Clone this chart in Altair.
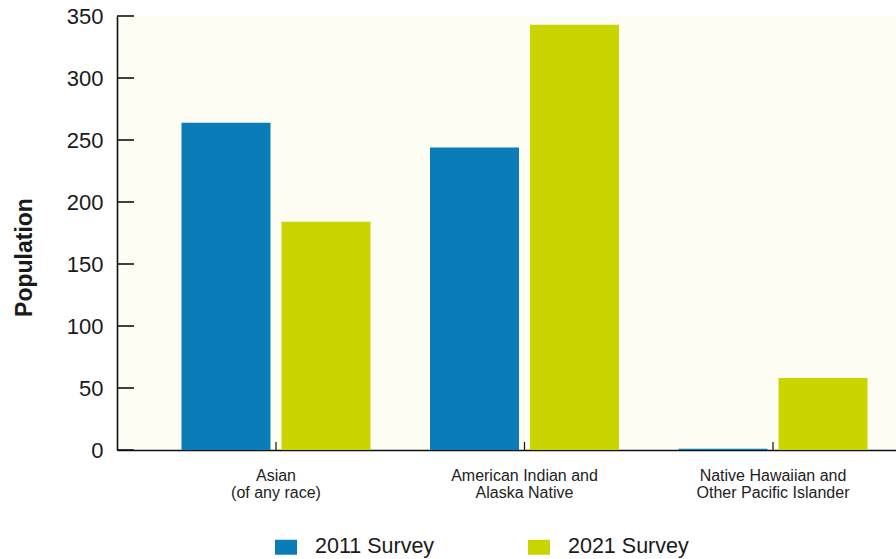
import altair as alt
import pandas as pd

categories = ["Asian\n(of any race)", "American Indian and\nAlaska Native",
              "Native Hawaiian and\nOther Pacific Islander"]
surveys = ["2011 Survey", "2021 Survey"]
values_2011 = [264, 244, 1]
values_2021 = [184, 343, 58]
y_ticks = [0, 50, 100, 150, 200, 250, 300, 350]
colors = ["#0a7db8", "#c9d400"]

rows = []
for c, v in zip(categories, values_2011):
    rows.append({"category": c, "survey": surveys[0], "value": v})
for c, v in zip(categories, values_2021):
    rows.append({"category": c, "survey": surveys[1], "value": v})
df = pd.DataFrame(rows)
df_yt = pd.DataFrame({"tick": y_ticks})
df_xt = pd.DataFrame({"category": categories})

FONT = "Liberation Sans, Arial, sans-serif"

x_scale = alt.Scale(domain=categories, range=[0, 815], paddingInner=0, paddingOuter=0.1398)
y_scale = alt.Scale(domain=[0, 350], nice=False)

bars = alt.Chart(df).mark_bar().encode(
    x=alt.X("category:N", sort=categories, scale=x_scale,
            axis=alt.Axis(title=None, ticks=False, labelAngle=0,
                          labelExpr="split(datum.label, '\\n')",
                          labelFont=FONT, labelFontSize=16, labelColor="#222222",
                          labelLineHeight=17, labelPadding=17, labelBaseline="top",
                          domainColor="#111111", domainWidth=1.6)),
    xOffset=alt.XOffset("survey:N", sort=surveys,
                        scale=alt.Scale(paddingInner=0.11, paddingOuter=0.2975)),
    y=alt.Y("value:Q", scale=y_scale,
            axis=alt.Axis(title="Population", values=y_ticks, ticks=False, grid=False,
                          labelFont=FONT, labelFontSize=22, labelColor="#1a1a1a",
                          labelPadding=14, domainColor="#111111", domainWidth=1.6,
                          titleFont=FONT, titleFontSize=23, titleFontWeight="bold",
                          titleColor="#1a1a1a", titleX=-93, titleY=241,
                          titleBaseline="middle", titleAlign="center")),
    color=alt.Color("survey:N", sort=surveys,
                    scale=alt.Scale(domain=surveys, range=colors),
                    legend=alt.Legend(title=None, orient="none", legendX=158, legendY=520,
                                      direction="horizontal",
                                      symbolType="M-1,-0.68L1,-0.68L1,0.68L-1,0.68Z",
                                      symbolSize=484, symbolStrokeWidth=0,
                                      labelFont=FONT, labelFontSize=21.5, labelColor="#1a1a1a",
                                      labelOffset=18, columnPadding=93)),
)

yticks = alt.Chart(df_yt).mark_rule(color="#111111", strokeWidth=1.6).encode(
    y=alt.Y("tick:Q", scale=y_scale),
    x=alt.value(0),
    x2=alt.value(17),
)

xticks = alt.Chart(df_xt).mark_rule(color="#111111", strokeWidth=1.2).encode(
    x=alt.X("category:N", sort=categories, scale=x_scale),
    y=alt.value(426),
    y2=alt.value(434),
)

chart = alt.layer(bars, yticks, xticks).properties(
    width=779, height=434,
    autosize=alt.AutoSizeParams(type="none"),
    padding={"left": 117, "top": 16, "right": 0, "bottom": 109},
    background="#ffffff",
).configure_view(stroke="transparent", fill="#fdfdf4")

chart.save("out.html", embed_options={"renderer": "svg", "actions": False})
